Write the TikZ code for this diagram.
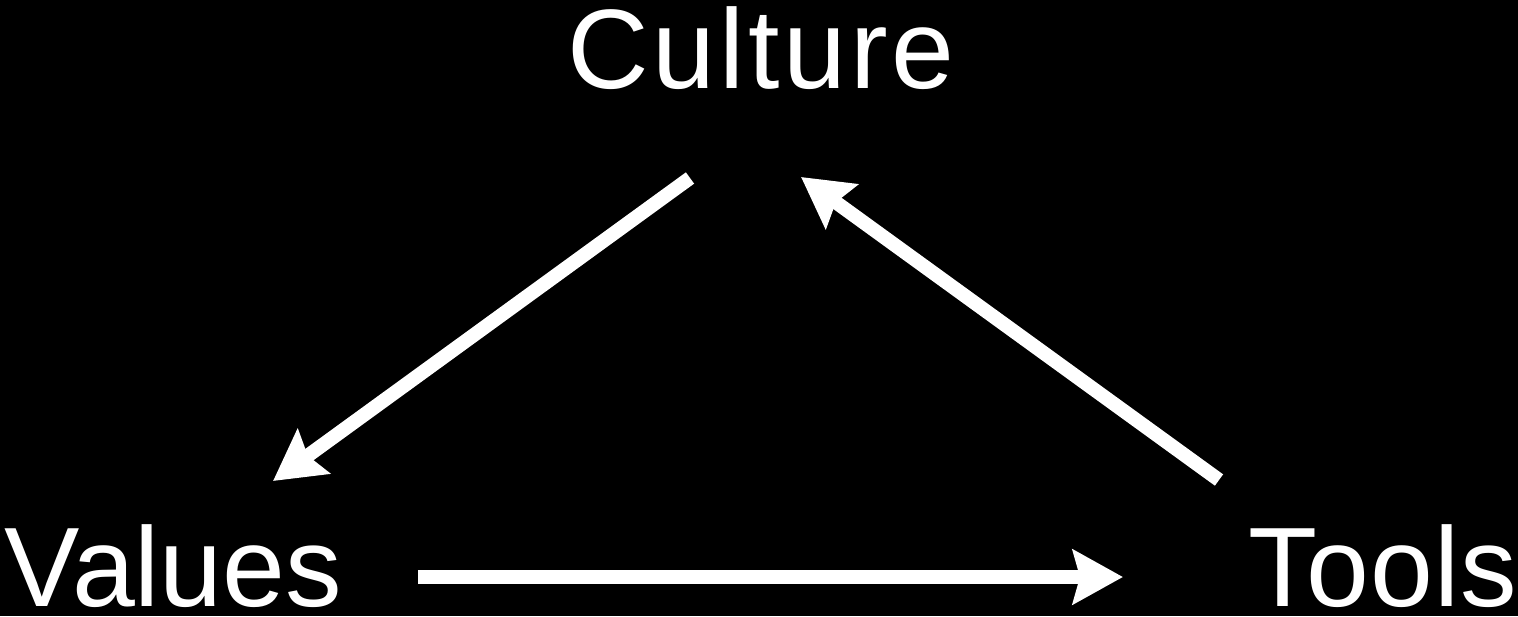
\documentclass[tikz,border=0pt]{standalone}
\usepackage{fontspec}
\setmainfont{Liberation Sans}
\usetikzlibrary{arrows.meta,positioning}

\begin{document}
\begin{tikzpicture}[
  x=1pt,y=-1pt,
  font=\fontsize{113}{120}\selectfont,
  word/.style={text=white,inner sep=0pt,outer sep=0pt,text depth=0pt},
  arrow/.style={-{Stealth[length=50pt,width=54pt,inset=7pt]},line width=14pt,draw=white}
]
\fill[black] (0,0) rectangle (1518,616);
\useasboundingbox (0,0) rectangle (1518,616);
% the three words
\node[word,anchor=base] (culture) at (761,88) {\addfontfeature{LetterSpace=3.5}Culture};
\node[word,anchor=base west] (values) at (5,606) {Values};
\node[word,anchor=base east] (tools) at (1517,606) {\addfontfeature{LetterSpace=1}Tools};
% arrow ends
\coordinate (cv1) at (690,178);
\coordinate (cv2) at (273,481);
\coordinate (tc1) at (1219,480);
\coordinate (tc2) at (801,177);
\coordinate (vt1) at (418,577);
\coordinate (vt2) at (1123,577);
\draw[arrow] (cv1) -- (cv2);
\draw[arrow] (tc1) -- (tc2);
\draw[arrow] (vt1) -- (vt2);
\end{tikzpicture}
\end{document}
